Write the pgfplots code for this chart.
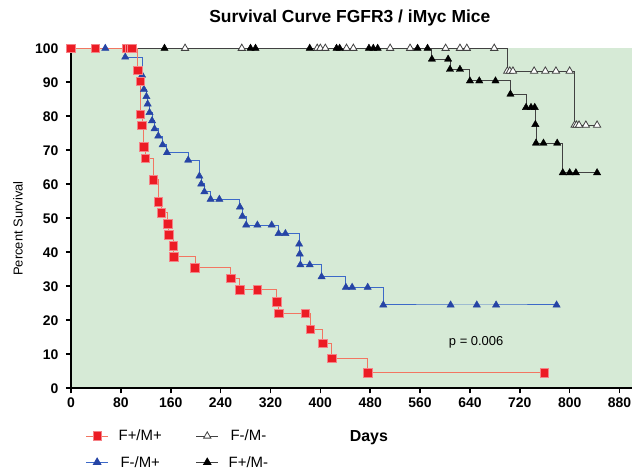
\documentclass[border=0pt]{standalone}
\usepackage{pgfplots}
\pgfplotsset{compat=1.18}
\usepackage{pgfplotstable}
\usepackage{fontspec}
\setmainfont{Liberation Sans}
\definecolor{bggreen}{RGB}{214,234,214}
\definecolor{redfill}{RGB}{236,28,36}
\definecolor{redline}{RGB}{242,118,98}
\definecolor{bluefill}{RGB}{38,68,165}
\definecolor{blueline}{RGB}{60,105,200}
\definecolor{grayline}{RGB}{65,65,65}

\pgfplotstableread{
day pct
0 100
39 100
90 100
94 100
98 100
107 93.5
111 90.3
111 80.6
114 77.4
117 71.0
119 67.7
132 61.3
140 54.8
145 51.6
155 48.4
157 45.2
164 41.9
165 38.7
199 35.5
256 32.3
271 29.0
299 29.0
330 25.5
333 22.1
376 22.1
384 17.4
404 13.2
418 8.8
476 4.6
759 4.6
}\redtab

\pgfplotstableread{
day pct
0 100
55 100
87 97.4
114 92.1
117 87.9
121 85.8
123 83.6
126 81.1
130 78.7
134 76.3
140 74.2
147 71.6
154 69.3
188 67.1
206 62.4
209 60.1
214 57.8
224 55.6
238 55.6
271 53.3
275 50.6
281 48.0
299 48.0
322 48.0
333 45.5
344 45.5
366 42.4
367 39.5
368 36.3
383 36.3
402 32.8
441 29.7
451 29.7
476 29.7
501 24.5
609 24.5
651 24.5
682 24.5
779 24.5
}\bluetab

\pgfplotstableread{
day pct
0 100
150 100
288 100
296 100
383 100
426 100
431 100
478 100
485 100
492 100
556 100
572 100
579 96.8
605 96.8
608 93.8
624 93.8
640 90.4
655 90.4
681 90.4
705 86.5
730 82.6
738 82.6
744 82.6
745 77.6
746 72.1
758 72.1
780 72.1
789 63.4
800 63.4
810 63.4
844 63.4
}\blacktab

\pgfplotstableread{
day pct
0 100
183 100
274 100
395 100
400 100
408 100
442 100
453 100
512 100
544 100
601 100
624 100
635 100
679 100
700 93.3
704 93.3
709 93.3
743 93.3
761 93.3
778 93.3
800 93.3
808 77.4
811 77.4
815 77.4
826 77.4
844 77.4
}\whitetab

\begin{document}
\begin{tikzpicture}
\path[use as bounding box] (0,0) rectangle (639bp,473bp);
\begin{axis}[
  at={(71bp,84.7bp)}, anchor=south west,
  scale only axis, width=561bp, height=340bp,
  xmin=0, xmax=900, ymin=0, ymax=100,
  axis lines=left,
  axis line style={-, line width=1.6bp, black},
  xtick={0,80,...,880}, ytick={0,10,...,100},
  tick align=outside, major tick length=5bp,
  tick style={line width=1.6bp, black},
  ticklabel style={font=\fontsize{14}{16}\selectfont\bfseries},
  xticklabel style={yshift=-1bp},
  yticklabel style={xshift=-4bp},
  /pgf/number format/assume math mode=true,
  axis background/.style={fill=bggreen},
  clip=false,
  title={Survival Curve FGFR3 / iMyc Mice},
  title style={at={(axis description cs:0.497,1.072)}, anchor=center, yshift=0pt,
    font=\fontsize{17.5}{20}\selectfont\bfseries},
  xlabel={Days},
  xlabel style={at={(axis description cs:0.531,-0.146)}, anchor=center,
    font=\fontsize{16}{18}\selectfont\bfseries},
  ylabel={Percent Survival},
  ylabel style={at={(axis description cs:-0.0945,0.47)}, anchor=center,
    font=\fontsize{13}{15}\selectfont},
  legend columns=2,
  legend style={at={(axis description cs:0.0204,-0.110)}, anchor=north west,
    draw=none, fill=none, font=\fontsize{15}{17}\selectfont,
    /tikz/every even column/.append style={column sep=32bp},
    /tikz/every odd column/.append style={column sep=8bp},
    row sep=10bp},
  legend image code/.code={\draw[mark repeat=2, mark phase=2] plot coordinates {(0bp,0bp) (11bp,0bp) (22bp,0bp)};},
]
% legend images (order row-wise)
\addlegendimage{color=redline, line width=1bp, mark=square*, mark size=4.3bp, mark options={solid, fill=redfill, draw=redfill!55!white, line width=0.6bp}}
\addlegendentry{F+/M+}
\addlegendimage{color=grayline, line width=0.9bp, mark=triangle*, mark size=4.2bp, mark options={solid, fill=white, draw=grayline, line width=0.8bp}}
\addlegendentry{F-/M-}
\addlegendimage{color=blueline, line width=1bp, mark=triangle*, mark size=4.2bp, mark options={solid, fill=bluefill, draw=bluefill}}
\addlegendentry{F-/M+}
\addlegendimage{color=grayline, line width=0.9bp, mark=triangle*, mark size=4.2bp, mark options={solid, fill=black, draw=black}}
\addlegendentry{F+/M-}

% white (F-/M-)
\addplot[const plot, no marks, color=grayline, line width=0.9bp, forget plot] table[x=day, y=pct] {\whitetab};
\addplot[only marks, mark=triangle*, mark size=4.2bp, mark options={fill=white, draw=grayline, line width=0.8bp}, skip coords between index={0}{1}, forget plot] table[x=day, y=pct] {\whitetab};
% black (F+/M-)
\addplot[const plot, no marks, color=grayline, line width=0.9bp, forget plot] table[x=day, y=pct] {\blacktab};
\addplot[only marks, mark=triangle*, mark size=4.2bp, mark options={fill=black, draw=black}, skip coords between index={0}{1}, forget plot] table[x=day, y=pct] {\blacktab};
% blue (F-/M+)
\addplot[const plot, no marks, color=blueline, line width=1bp, forget plot] table[x=day, y=pct] {\bluetab};
\addplot[only marks, mark=triangle*, mark size=4.2bp, mark options={fill=bluefill, draw=bluefill}, skip coords between index={0}{1}, forget plot] table[x=day, y=pct] {\bluetab};
% red (F+/M+)
\addplot[const plot, no marks, color=redline, line width=1bp, forget plot] table[x=day, y=pct] {\redtab};
\addplot[only marks, mark=square*, mark size=4.3bp, mark options={fill=redfill, draw=redfill!55!white, line width=0.6bp}, forget plot] table[x=day, y=pct] {\redtab};

\node[font=\fontsize{13}{15}\selectfont] at (axis cs:650,13.6) {p = 0.006};
\end{axis}
\end{tikzpicture}
\end{document}
